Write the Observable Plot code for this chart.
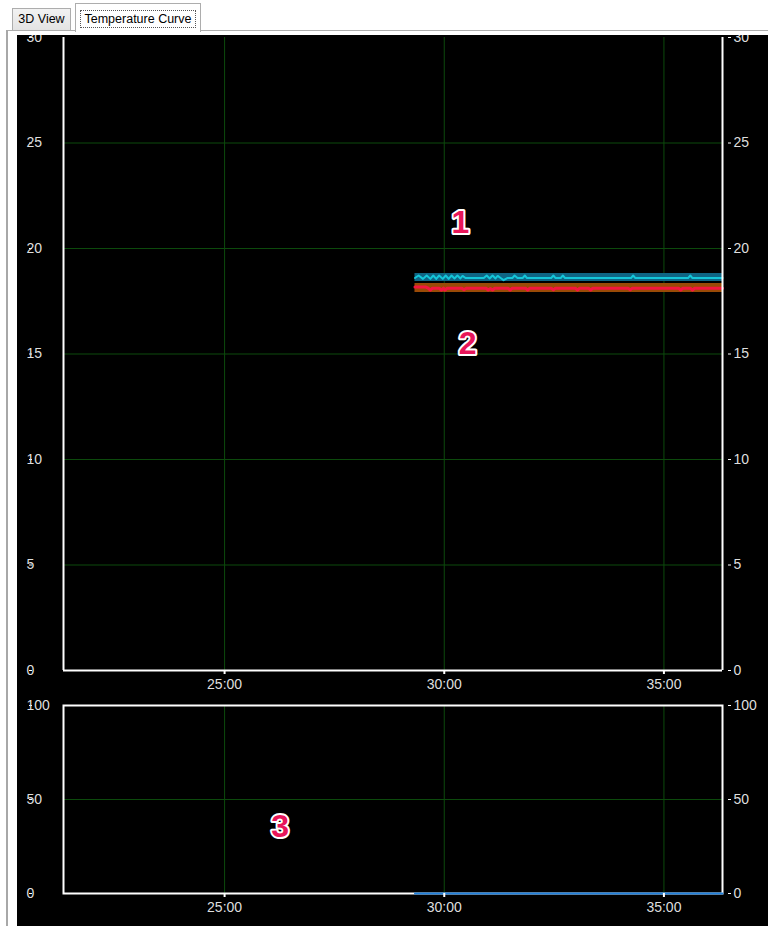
<!DOCTYPE html>
<html><head><meta charset="utf-8">
<script src="https://cdn.jsdelivr.net/npm/d3@7"></script>
<script src="https://cdn.jsdelivr.net/npm/@observablehq/plot@0.6"></script>
<style>
html,body{margin:0;padding:0;background:#fff;}
body{width:768px;height:926px;overflow:hidden;position:relative;font-family:"Liberation Sans",Arial,sans-serif;}
.tab{position:absolute;box-sizing:border-box;border:1px solid #adadad;font-size:12.5px;color:#000;text-align:center;}
#tab1{left:12px;top:8px;width:59px;height:23px;background:linear-gradient(#f2f2f2,#e3e3e3);line-height:21px;}
#tab2{left:75px;top:3px;width:126px;height:29px;background:#fff;border-bottom:none;}
#tab2 span{position:absolute;left:4px;top:6px;right:4px;height:18px;line-height:16px;border:1px dotted #555;box-sizing:border-box;}
#hline{position:absolute;left:6px;top:30px;width:762px;height:1px;background:#adadad;}
#vline{position:absolute;left:6px;top:30px;width:2px;height:896px;background:#a8a8a8;}
#panel{position:absolute;left:17px;top:35px;width:751px;height:891px;background:#000;overflow:hidden;}
#topc{position:absolute;left:-17px;top:-35px;}
#botc{position:absolute;left:-17px;top:655px;}
</style></head>
<body>
<div id="hline"></div>
<div id="vline"></div>
<div class="tab" id="tab1">3D View</div>
<div class="tab" id="tab2"><span>Temperature Curve</span></div>
<div id="panel"><div id="topc"></div><div id="botc"></div></div>
<script>
// ---- data (time in seconds) ----
const xDomain = [1280, 2180];
const xTicks = [1500, 1800, 2100];
const tempTicks = [0, 5, 10, 15, 20, 25, 30];
const pctTicks = [0, 50, 100];

// series 1 (cyan)
const cyanT = [1760,1765,1771,1776,1781,1785,1789,1793,1798,1802,1806,1810,1814,1818,1822,1825,1829,1854,1858,1862,1866,1870,1873,1877,1881,1886,1893,1896,1900,1907,1910,1913,1946,1949,1952,1959,1962,1965,2055,2058,2061,2133,2136,2139,2180];
const cyanV = [18.60,18.72,18.56,18.72,18.56,18.72,18.56,18.72,18.56,18.72,18.56,18.72,18.58,18.72,18.58,18.70,18.60,18.60,18.72,18.58,18.72,18.58,18.70,18.60,18.50,18.60,18.60,18.72,18.60,18.60,18.72,18.60,18.60,18.72,18.60,18.60,18.72,18.60,18.60,18.72,18.60,18.60,18.72,18.60,18.60];
// series 2 (red)
const redT = [1760,1775,1778,1781,1784,1793,1796,1799,1801,1804,1824,1827,1830,1857,1860,1863,1866,1869,1887,1890,1893,1911,1914,1917,1946,1949,1952,1979,1982,1985,1997,2000,2003,2051,2054,2057,2120,2123,2126,2136,2139,2142,2180];
const redV = [18.17,18.17,18.12,18.02,18.12,18.12,18.03,18.12,18.03,18.12,18.12,18.05,18.12,18.12,18.03,18.10,18.03,18.12,18.12,18.03,18.12,18.12,18.03,18.12,18.12,18.04,18.12,18.12,18.03,18.12,18.12,18.03,18.12,18.12,18.04,18.12,18.12,18.03,18.12,18.12,18.03,18.12,18.12];
// envelopes
const bandT = [1760, 2180];
const cyanLo = [18.44, 18.44];
const cyanHi = [18.81, 18.81];
const redLo = [17.91, 17.91];
const redHi = [18.34, 18.34];
// series 3 (blue, lower chart)
const blueT = [1760, 2180];
const blueV = [0, 0];
// annotations
const labels = ["1", "2", "3"];
const labelT = [1822, 1832, 1576];
const labelV = [21.2, 15.5, 35.6];

// ---- build ----
const fmt = s => `${Math.floor(s / 60)}:${String(s % 60).padStart(2, "0")}`;
const pts = (T, V) => T.map((t, i) => ({t, v: V[i]}));
const band = (lo, hi) => bandT.map((t, i) => ({t, lo: lo[i], hi: hi[i]}));
const GRID = "#0c4a0c";
const FONT = "'Liberation Sans', Arial, sans-serif";
const txt = {fill: "#dedede", fontSize: 14, fontFamily: FONT, label: null};
const lab = labels.map((l, i) => ({l, t: labelT[i], v: labelV[i]}));
const annot = data => Plot.text(data, {x: "t", y: "v", text: "l", fill: "#e8165a", stroke: "white", strokeWidth: 4, strokeLinejoin: "round", fontSize: 32, fontWeight: "bold", fontFamily: FONT});

const topChart = Plot.plot({
  width: 768, height: 700,
  marginLeft: 63, marginRight: 46, marginTop: 37, marginBottom: 30,
  style: {background: "transparent", overflow: "visible"},
  x: {domain: xDomain, label: null},
  y: {domain: [0, 30], label: null},
  marks: [
    Plot.gridX(xTicks, {stroke: GRID, strokeOpacity: 1}),
    Plot.gridY(tempTicks.filter(v => v > 0 && v < 30), {stroke: GRID, strokeOpacity: 1}),
    Plot.areaY(band(cyanLo, cyanHi), {x: "t", y1: "lo", y2: "hi", fill: "#0f6584"}),
    Plot.areaY(band(redLo, redHi), {x: "t", y1: "lo", y2: "hi", fill: "#9a4a06"}),
    Plot.line(pts(cyanT, cyanV), {x: "t", y: "v", stroke: "#14c6d8", strokeWidth: 2}),
    Plot.line(pts(redT, redV), {x: "t", y: "v", stroke: "#f3163e", strokeWidth: 3}),
    Plot.ruleX(xDomain, {stroke: "white", strokeWidth: 2}),
    Plot.ruleY([0], {stroke: "white", strokeWidth: 2, x1: xDomain[0], x2: xDomain[1]}),
    Plot.axisX(xTicks, {tickFormat: fmt, tickSize: 4, tickPadding: 5, stroke: "white", strokeWidth: 2, ...txt}),
    Plot.axisY(tempTicks, {anchor: "left", tickSize: 3, tickPadding: 3, textAnchor: "start", dx: -31, stroke: "white", ...txt}),
    Plot.axisY(tempTicks, {anchor: "right", tickSize: 3, tickPadding: 3, textAnchor: "start", dx: 5, stroke: "white", ...txt}),
    annot(lab.slice(0, 2))
  ]
});
document.getElementById("topc").appendChild(topChart);

const botChart = Plot.plot({
  width: 768, height: 236,
  marginLeft: 63, marginRight: 46, marginTop: 15, marginBottom: 33,
  style: {background: "transparent", overflow: "visible"},
  x: {domain: xDomain, label: null},
  y: {domain: [0, 100], label: null},
  marks: [
    Plot.gridX(xTicks, {stroke: GRID, strokeOpacity: 1}),
    Plot.gridY([50], {stroke: GRID, strokeOpacity: 1}),
    Plot.frame({stroke: "white", strokeWidth: 2}),
    Plot.line(pts(blueT, blueV), {x: "t", y: "v", stroke: "#1f80dc", strokeWidth: 2}),
    Plot.axisX(xTicks, {tickFormat: fmt, tickSize: 4, tickPadding: 5, stroke: "white", strokeWidth: 2, ...txt}),
    Plot.axisY(pctTicks, {anchor: "left", tickSize: 3, tickPadding: 3, textAnchor: "start", dx: -31, stroke: "white", ...txt}),
    Plot.axisY(pctTicks, {anchor: "right", tickSize: 3, tickPadding: 3, textAnchor: "start", dx: 5, stroke: "white", ...txt}),
    annot(lab.slice(2))
  ]
});
document.getElementById("botc").appendChild(botChart);
</script>
</body></html>
